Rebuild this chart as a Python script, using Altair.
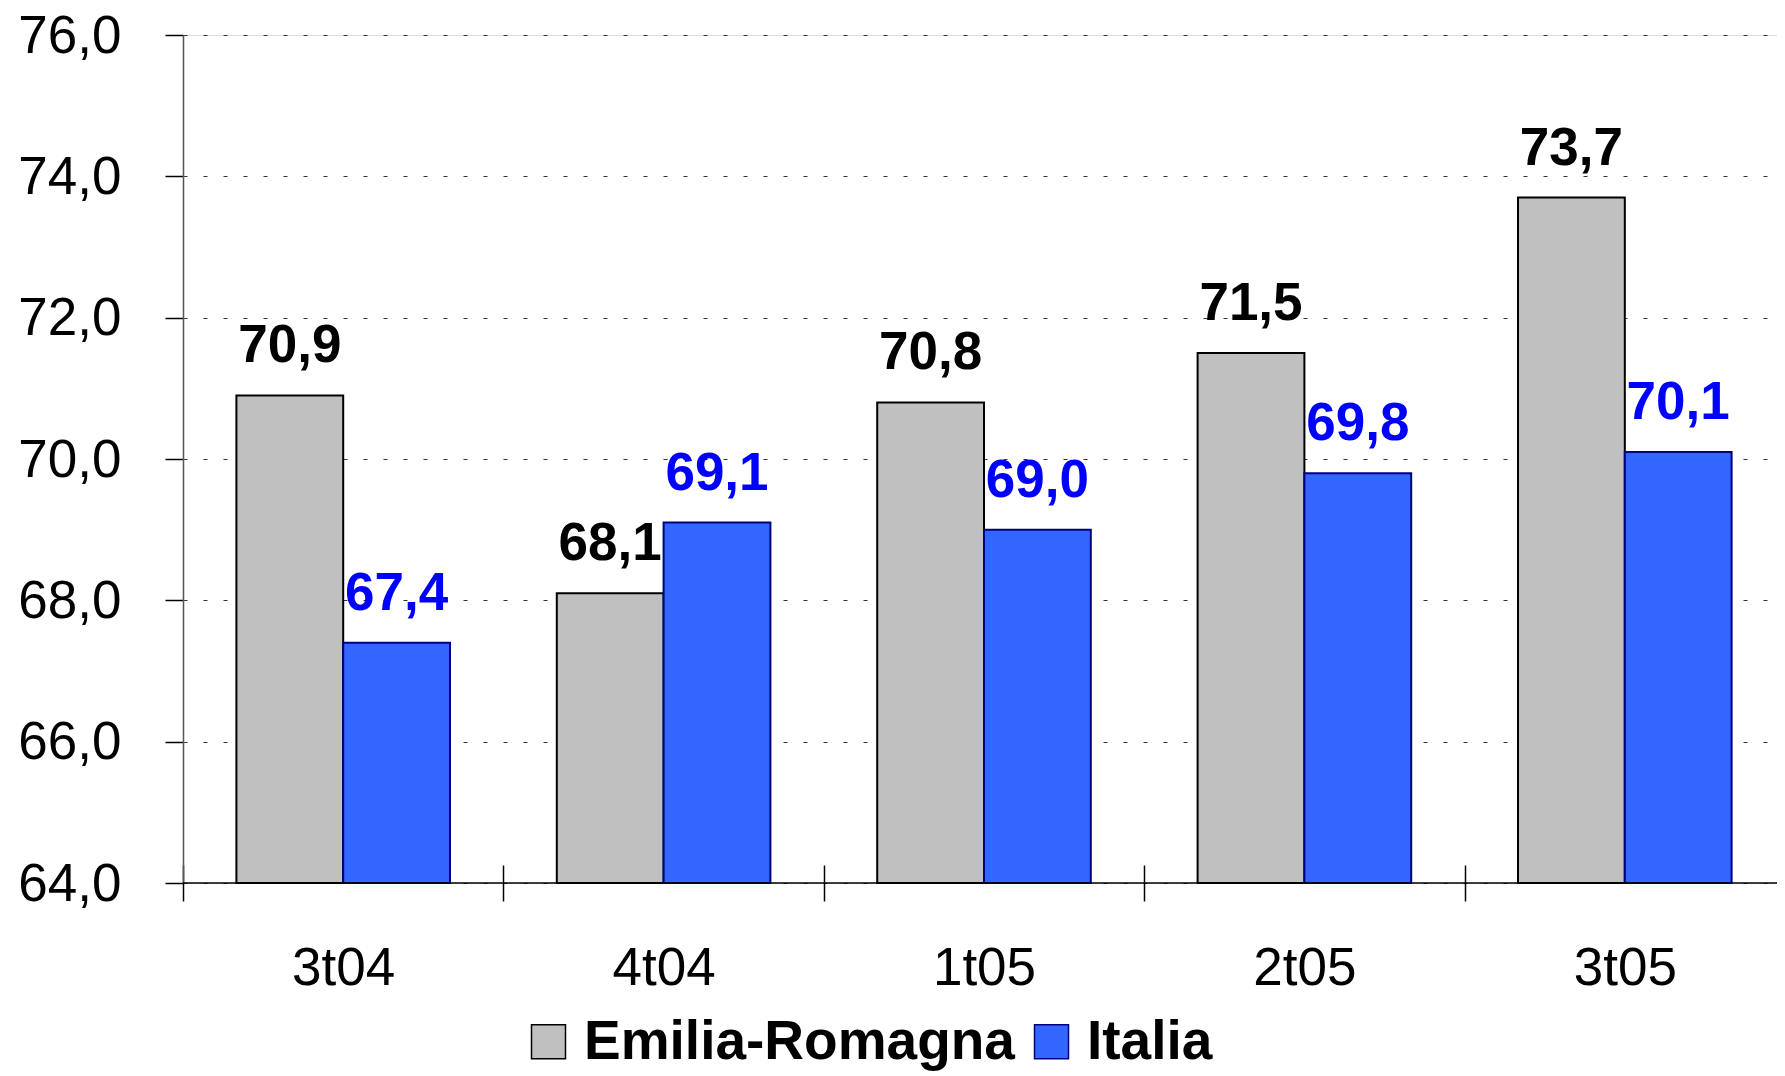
import altair as alt
import pandas as pd

categories = ["3t04", "4t04", "1t05", "2t05", "3t05"]
emilia = [70.9, 68.1, 70.8, 71.5, 73.7]
italia = [67.4, 69.1, 69.0, 69.8, 70.1]
series = ["Emilia-Romagna", "Italia"]
y_ticks = [64, 66, 68, 70, 72, 74, 76]

fill_colors = ["#C0C0C0", "#3366FF"]
stroke_colors = ["#000000", "#000080"]
text_colors = ["#000000", "#0000FF"]

rows = []
for c, e, i in zip(categories, emilia, italia):
    for s, v in zip(series, [e, i]):
        rows.append(dict(periodo=c, serie=s, valore=v,
                         etichetta=f"{v:.1f}".replace(".", ",")))
df = pd.DataFrame(rows)

FONT = "Liberation Sans"

x = alt.X(
    "periodo:N", sort=categories,
    scale=alt.Scale(range=[0, 1602], paddingInner=0, paddingOuter=0),
    axis=alt.Axis(title=None, labelAngle=0, labelFont=FONT, labelFontSize=53,
                  labelColor="black", tickBand="extent", tickSize=36,
                  tickColor="#000000", tickWidth=1.5, offset=-18, domain=False,
                  labelPadding=41, grid=False),
)
y = alt.Y(
    "valore:Q",
    scale=alt.Scale(domain=[64, 76], nice=False, zero=False),
    axis=alt.Axis(title=None, values=y_ticks,
                  labelExpr="replace(format(datum.value, '.1f'), '.', ',')",
                  labelFont=FONT, labelFontSize=53, labelColor="black",
                  labelPadding=44, labelOffset=1, tickSize=18, tickColor="#000000",
                  tickWidth=1.5, domainColor="#555555", domainWidth=1.5,
                  grid=True, gridDash=[4, 16], gridColor="#333333", gridWidth=1.2),
)
xoff = alt.XOffset("serie:N", sort=series,
                   scale=alt.Scale(paddingInner=0, paddingOuter=0.5))

legend = alt.Legend(title=None, orient="none", legendX=338, legendY=979,
                    direction="horizontal", symbolType="square", symbolSize=1156,
                    symbolStrokeWidth=1.5, labelFont=FONT, labelFontSize=55,
                    labelFontWeight="bold", labelColor="black", labelOffset=8,
                    labelLimit=0, columnPadding=9, padding=0, symbolOpacity=1)

base = alt.Chart(df)

bars = base.mark_bar(strokeWidth=2).encode(
    x=x, xOffset=xoff, y=y, y2=alt.datum(64),
    fill=alt.Fill("serie:N", sort=series,
                  scale=alt.Scale(domain=series, range=fill_colors), legend=legend),
    stroke=alt.Stroke("serie:N", sort=series,
                      scale=alt.Scale(domain=series, range=stroke_colors), legend=legend),
)

baseline = alt.Chart(pd.DataFrame({"v": [64]})).mark_rule(
    color="black", strokeWidth=1.5).encode(y=alt.Y("v:Q"))

labels = base.mark_text(font=FONT, fontSize=53, fontWeight="bold",
                        baseline="alphabetic", dy=-33).encode(
    x=x, xOffset=xoff, y=y, text="etichetta:N",
    color=alt.Color("serie:N", sort=series,
                    scale=alt.Scale(domain=series, range=text_colors), legend=None),
)

chart = alt.layer(bars, baseline, labels).properties(
    width=1594, height=848,
    autosize=alt.AutoSizeParams(type="none"),
    padding={"left": 175, "top": 27, "right": 0, "bottom": 189},
).configure_view(stroke=None).configure(background="white")

chart.save("out.html", embed_options={"renderer": "svg", "actions": False})
